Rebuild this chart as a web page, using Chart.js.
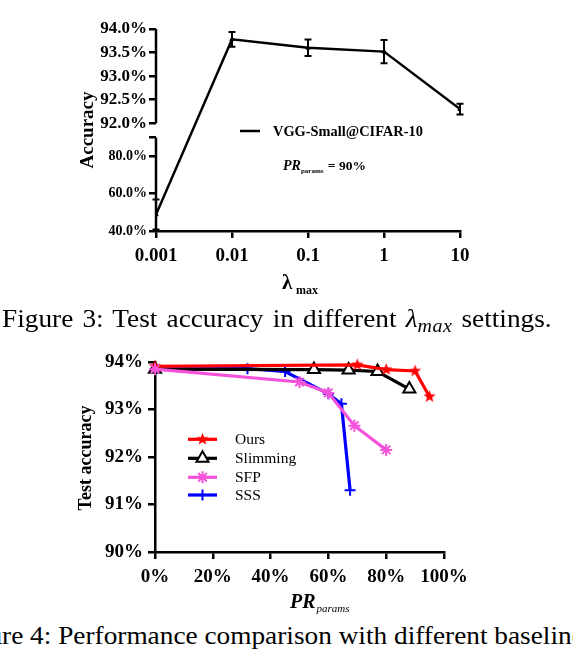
<!DOCTYPE html>
<html><head><meta charset="utf-8">
<script src="https://cdn.jsdelivr.net/npm/chart.js@4.4.1/dist/chart.umd.min.js"></script>
<style>
html,body{margin:0;padding:0;background:#fff;width:573px;height:649px;overflow:hidden;position:relative;font-family:"Liberation Serif",serif;}
#c1{position:absolute;left:0;top:0;}
#c2{position:absolute;left:0;top:330px;}
.cap{position:absolute;white-space:nowrap;font-size:26px;line-height:26px;color:#000;transform:scaleX(1.05);transform-origin:0 0;}
.cap sub{font-size:19px;line-height:0;vertical-align:-5px;letter-spacing:0.5px;}
</style></head><body>
<canvas id="c1" width="573" height="300"></canvas>
<canvas id="c2" width="573" height="290"></canvas>
<div class="cap" style="left:2px;top:305.5px;word-spacing:2.2px;">Figure 3: Test accuracy in different <i>λ</i><sub><i>max</i></sub> settings.</div>
<div class="cap" style="left:-48px;top:623px;">Figure 4: Performance comparison with different baselines.</div>
<script>
// ---------- Figure 3 data ----------
const lambdaValues = [0.001, 0.01, 0.1, 1, 10];
const lambdaTickLabels = ['0.001', '0.01', '0.1', '1', '10'];
const accuracyMean = [48.8, 93.78, 93.6, 93.52, 92.3];
const accuracyErr = [8.0, 0.155, 0.175, 0.245, 0.115];
const accTickValues = [40, 60, 80, 90, 92, 92.5, 93, 93.5, 94];
const accTickLabels = ['40.0%', '60.0%', '80.0%', '', '92.0%', '92.5%', '93.0%', '93.5%', '94.0%'];
const seriesName3 = 'VGG-Small@CIFAR-10';

// ---------- Figure 4 data ----------
const prTickValues = [0, 20, 40, 60, 80, 100];
const prTickLabels = ['0%', '20%', '40%', '60%', '80%', '100%'];
const accTick4Values = [90, 91, 92, 93, 94];
const accTick4Labels = ['90%', '91%', '92%', '93%', '94%'];
const oursPR = [0, 70, 80, 90, 95];
const oursAcc = [93.91, 93.94, 93.84, 93.81, 93.27];
const slimPR = [0, 55, 67, 77, 88];
const slimAcc = [93.85, 93.84, 93.83, 93.8, 93.43];
const sfpPR = [0, 50, 60, 69, 80];
const sfpAcc = [93.85, 93.58, 93.35, 92.66, 92.15];
const sssPR = [0, 32, 45, 60, 64.5, 67.5];
const sssAcc = [93.85, 93.86, 93.8, 93.33, 93.12, 91.3];
const seriesNames4 = ['Ours', 'Slimming', 'SFP', 'SSS'];

const FONT = '"Liberation Serif", "Times New Roman", serif';

// broken axis mapping (value -> display units)
const LOW_MIN = 40, LOW_MAX = 90, HIGH_MIN = 92, HIGH_MAX = 94;
const LOW_SPAN = 93.3, GAP = 14.3, HIGH_SPAN = 94.1;
function disp(v) {
  return v <= (LOW_MAX + HIGH_MIN) / 2
    ? (v - LOW_MIN) / (LOW_MAX - LOW_MIN) * LOW_SPAN
    : LOW_SPAN + GAP + (v - HIGH_MIN) / (HIGH_MAX - HIGH_MIN) * HIGH_SPAN;
}

// ---------- Chart 1 ----------
const plugin1 = {
  id: 'fig3extras',
  afterDatasetsDraw(chart) {
    const ctx = chart.ctx, xs = chart.scales.x, ys = chart.scales.y;
    ctx.save();
    ctx.strokeStyle = '#000'; ctx.lineWidth = 2;
    lambdaValues.forEach((lv, i) => {
      const x = xs.getPixelForValue(lv);
      const y1 = ys.getPixelForValue(disp(Math.max(accuracyMean[i] - accuracyErr[i], LOW_MIN)));
      const y2 = ys.getPixelForValue(disp(accuracyMean[i] + accuracyErr[i]));
      ctx.beginPath();
      ctx.moveTo(x, y1); ctx.lineTo(x, y2);
      ctx.moveTo(x - 3.5, y1); ctx.lineTo(x + 3.5, y1);
      ctx.moveTo(x - 3.5, y2); ctx.lineTo(x + 3.5, y2);
      ctx.stroke();
    });
    // broken y axis line
    const ax = chart.chartArea.left;
    ctx.lineWidth = 2.5;
    ctx.beginPath();
    ctx.moveTo(ax, ys.getPixelForValue(disp(LOW_MIN)) + 1.2); ctx.lineTo(ax, ys.getPixelForValue(disp(LOW_MAX)));
    ctx.moveTo(ax, ys.getPixelForValue(disp(HIGH_MIN))); ctx.lineTo(ax, ys.getPixelForValue(disp(HIGH_MAX)));
    ctx.stroke();
    // legend
    ctx.lineWidth = 2.5;
    ctx.beginPath(); ctx.moveTo(240, 131); ctx.lineTo(260, 131); ctx.stroke();
    ctx.fillStyle = '#000';
    ctx.textBaseline = 'alphabetic';
    ctx.font = 'bold 14.4px ' + FONT;
    ctx.fillText(seriesName3, 273, 136);
    ctx.font = 'italic bold 14px ' + FONT;
    ctx.fillText('PR', 283, 170);
    let w = ctx.measureText('PR').width;
    ctx.font = 'bold 7px ' + FONT;
    ctx.fillText('params', 283 + w, 173);
    let w2 = ctx.measureText('params').width;
    ctx.font = 'bold 13.5px ' + FONT;
    ctx.fillText(' = 90%', 283 + w + w2 + 1, 170);
    // axis titles
    ctx.save();
    ctx.translate(93, 130); ctx.rotate(-Math.PI / 2);
    ctx.font = 'bold 19px ' + FONT; ctx.textAlign = 'center';
    ctx.fillText('Accuracy', 0, 0);
    ctx.restore();
    ctx.font = 'bold 21px ' + FONT;
    ctx.textAlign = 'left';
    ctx.fillText('λ', 282, 289);
    ctx.font = 'bold 12px ' + FONT;
    ctx.fillText('max', 296, 294);
    ctx.restore();
  }
};

new Chart(document.getElementById('c1'), {
  type: 'line',
  data: {
    datasets: [{
      label: seriesName3,
      data: lambdaValues.map((v, i) => ({ x: v, y: disp(accuracyMean[i]) })),
      borderColor: '#000', backgroundColor: '#000', borderWidth: 2.5,
      pointStyle: 'triangle', pointRadius: 2.5, pointBorderWidth: 1,
      tension: 0
    }]
  },
  options: {
    responsive: false, animation: false,
    layout: { padding: { top: 29, right: 113, left: 0, bottom: 0 } },
    plugins: { legend: { display: false }, tooltip: { enabled: false } },
    scales: {
      x: {
        type: 'logarithmic', min: 0.001, max: 10,
        afterBuildTicks: s => { s.ticks = lambdaValues.map(v => ({ value: v })); },
        afterFit: s => { s.height = 69; },
        ticks: { autoSkip: false, maxRotation: 0, padding: 7, color: '#000',
          font: { family: FONT, weight: 'bold', size: 19 },
          callback: (v, i) => lambdaTickLabels[i] },
        grid: { drawOnChartArea: false, drawTicks: true, tickLength: 7, color: '#000', lineWidth: 2.5 },
        border: { display: true, color: '#000', width: 2.5 }
      },
      y: {
        type: 'linear', min: 0, max: disp(HIGH_MAX),
        afterBuildTicks: s => { s.ticks = accTickValues.map(v => ({ value: disp(v) })); },
        afterFit: s => { s.width = 156; },
        ticks: { autoSkip: false, padding: 2, color: '#000',
          font: c => ({ family: FONT, weight: 'bold', size: (c.tick && c.tick.value > LOW_SPAN + 1) ? 17 : 14 }),
          callback: (v, i) => accTickLabels[i] },
        grid: { drawOnChartArea: false, drawTicks: true, tickLength: 7, color: '#000', lineWidth: 2.5 },
        border: { display: false }
      }
    }
  },
  plugins: [plugin1]
});

// ---------- Chart 2 ----------
function starCanvas(color, R) {
  const c = document.createElement('canvas');
  const s = Math.ceil(R * 2 + 2);
  c.width = s; c.height = s;
  const g = c.getContext('2d');
  g.fillStyle = color;
  g.beginPath();
  for (let k = 0; k < 10; k++) {
    const r = k % 2 === 0 ? R : R * 0.42;
    const a = -Math.PI / 2 + k * Math.PI / 5;
    const px = s / 2 + r * Math.cos(a), py = s / 2 + r * Math.sin(a);
    k === 0 ? g.moveTo(px, py) : g.lineTo(px, py);
  }
  g.closePath(); g.fill();
  return c;
}
const RED = '#ff0000', PINK = '#f552dc', BLUE = '#0000ff';
const redStar = starCanvas(RED, 6.5);
const styles4 = [
  { color: RED, pointStyle: redStar, radius: 6.5, bg: RED, bw: 1 },
  { color: '#000', pointStyle: 'triangle', radius: 7, bg: '#fff', bw: 2 },
  { color: PINK, pointStyle: 'star', radius: 6, bg: PINK, bw: 2 },
  { color: BLUE, pointStyle: 'cross', radius: 5.5, bg: BLUE, bw: 2 }
];
const xs4 = [oursPR, slimPR, sfpPR, sssPR];
const ys4 = [oursAcc, slimAcc, sfpAcc, sssAcc];
const orders = [1, 2, 0, 3];

const plugin2 = {
  id: 'fig4extras',
  afterDraw(chart) {
    const ctx = chart.ctx;
    ctx.save();
    const rows = [109.3, 128.3, 147.3, 165];
    seriesNames4.forEach((name, i) => {
      const st = styles4[i], y = rows[i];
      ctx.strokeStyle = st.color; ctx.lineWidth = 3.2;
      ctx.beginPath(); ctx.moveTo(188, y); ctx.lineTo(217, y); ctx.stroke();
      ctx.fillStyle = st.bg; ctx.strokeStyle = st.color; ctx.lineWidth = st.bw;
      Chart.helpers.drawPoint(ctx, { pointStyle: st.pointStyle, radius: st.radius, rotation: 0, borderWidth: st.bw }, 202.5, y);
      ctx.fillStyle = '#000';
      ctx.font = '15.5px ' + FONT; ctx.textBaseline = 'middle'; ctx.textAlign = 'left';
      ctx.fillText(name, 235, y + 1);
    });
    // axis titles
    ctx.save();
    ctx.translate(91, 128); ctx.rotate(-Math.PI / 2);
    ctx.font = 'bold 18px ' + FONT; ctx.textAlign = 'center'; ctx.textBaseline = 'alphabetic';
    ctx.fillText('Test accuracy', 0, 0);
    ctx.restore();
    ctx.textBaseline = 'alphabetic'; ctx.textAlign = 'left';
    ctx.font = 'italic bold 20px ' + FONT;
    ctx.fillText('PR', 290, 278);
    const w = ctx.measureText('PR').width;
    ctx.font = 'italic 11px ' + FONT;
    ctx.fillText('params', 290 + w + 1, 282);
    ctx.restore();
  }
};

new Chart(document.getElementById('c2'), {
  type: 'line',
  data: {
    datasets: seriesNames4.map((name, i) => ({
      label: name,
      data: xs4[i].map((x, j) => ({ x: x, y: ys4[i][j] })),
      borderColor: styles4[i].color, backgroundColor: styles4[i].bg,
      borderWidth: 3.2, pointStyle: styles4[i].pointStyle,
      pointRadius: styles4[i].radius, pointBorderWidth: styles4[i].bw,
      pointBorderColor: styles4[i].color, pointBackgroundColor: styles4[i].bg,
      tension: 0, clip: false, order: orders[i]
    }))
  },
  options: {
    responsive: false, animation: false,
    layout: { padding: { top: 32, right: 129, left: 0, bottom: 0 } },
    plugins: { legend: { display: false }, tooltip: { enabled: false } },
    scales: {
      x: {
        type: 'linear', min: 0, max: 100,
        afterBuildTicks: s => { s.ticks = prTickValues.map(v => ({ value: v })); },
        afterFit: s => { s.height = 68; },
        ticks: { autoSkip: false, maxRotation: 0, padding: 7, color: '#000',
          font: { family: FONT, weight: 'bold', size: 19 },
          callback: (v, i) => prTickLabels[i] },
        grid: { drawOnChartArea: false, drawTicks: true, tickLength: 7, color: '#000', lineWidth: 2.5 },
        border: { display: true, color: '#000', width: 2.5 }
      },
      y: {
        type: 'linear', min: 90, max: 94,
        afterBuildTicks: s => { s.ticks = accTick4Values.map(v => ({ value: v })); },
        afterFit: s => { s.width = 155; },
        ticks: { autoSkip: false, padding: 5, color: '#000',
          font: { family: FONT, weight: 'bold', size: 19 },
          callback: (v, i) => accTick4Labels[i] },
        grid: { drawOnChartArea: false, drawTicks: true, tickLength: 7, color: '#000', lineWidth: 2.5 },
        border: { display: true, color: '#000', width: 2.5 }
      }
    }
  },
  plugins: [plugin2]
});
</script>
</body></html>
